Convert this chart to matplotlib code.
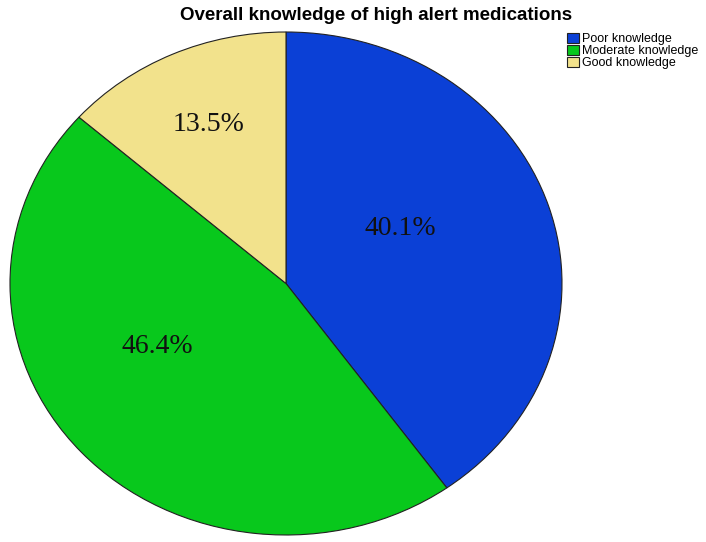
import numpy as np
import matplotlib.pyplot as plt

# --- DATA ---
categories = ["Poor knowledge", "Moderate knowledge", "Good knowledge"]
shares = [40.1, 46.4, 13.5]
colors = ["#0b40d6", "#08c81c", "#f2e28c"]
# label spots as (angle in deg, radius) in the stretched pie
label_spots = [(28, 0.47), (-152, 0.53), (114, 0.69)]

fig = plt.figure(figsize=(7.06, 5.42), dpi=100)
# pie is drawn stretched (SPSS style), so axes is not square
ax = fig.add_axes([10 / 706, 7 / 542, 552 / 706, 503 / 542])

wedges, _ = ax.pie(shares, colors=colors, startangle=90, counterclock=False,
                   wedgeprops=dict(edgecolor="#222222", linewidth=0.8))
ax.set_aspect("auto")
ax.set_xlim(-1, 1)
ax.set_ylim(-1, 1)

for val, (ang, r) in zip(shares, label_spots):
    a = np.deg2rad(ang)
    ax.text(r * np.cos(a), r * np.sin(a), f"{val}%", ha="center", va="center",
            fontsize=20, family="Liberation Serif", color="#111111")

fig.text(376 / 706, 1 - 16 / 542, "Overall knowledge of high alert medications",
         ha="center", va="center", fontsize=13.5, fontweight="bold",
         family="Liberation Sans")

fig.legend(wedges, categories, loc="upper left",
           bbox_to_anchor=(558 / 706, 1 - 24 / 542),
           frameon=False, prop={"family": "Liberation Sans", "size": 9},
           handlelength=1.0, handleheight=0.9, handletextpad=0.2,
           labelspacing=-0.05, borderpad=0.2)

plt.savefig("out.png", dpi=100)
